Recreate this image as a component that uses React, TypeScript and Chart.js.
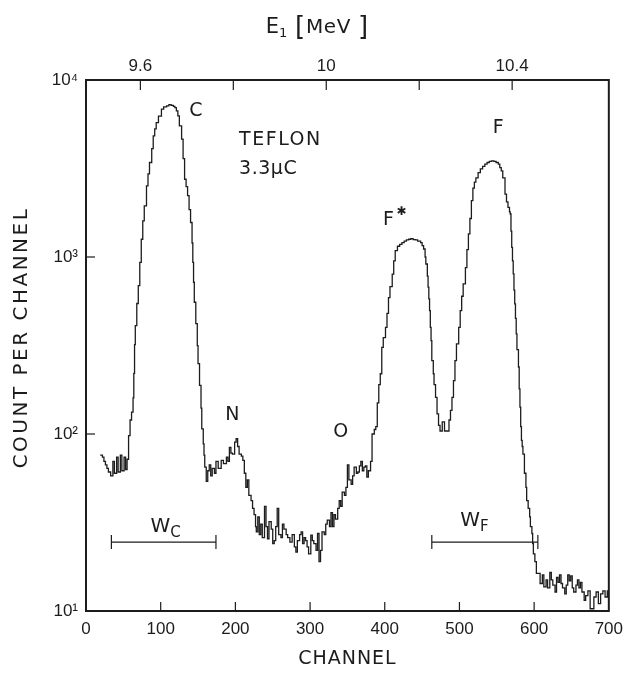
import React, { useEffect, useRef } from "react";
import { Chart, registerables } from "chart.js";

Chart.register(...registerables);

// ---------------- data ----------------
const channels = [
  19, 22, 24, 26, 28, 30, 33, 36, 38, 41, 43, 46, 48, 51, 53, 55,
  57, 59, 61, 63, 64, 65, 66, 68, 70, 72, 74, 76, 78, 81, 83, 85, 88, 90, 92, 94, 97,
  101, 104, 108, 111, 114, 117, 119, 121, 123, 125, 128, 130, 132, 134, 136, 138, 140,
  142, 143, 144, 145, 147, 149, 150, 152, 154, 155, 157, 158, 159, 161, 163,
  165, 167, 169, 172, 174, 177, 181, 184, 188, 190, 192, 194, 196, 199, 201, 203, 205,
  208, 210, 212, 214, 216, 218, 221, 223, 225, 227, 228, 230, 232, 234, 236, 239, 241,
  243, 245, 248, 250, 252, 254, 256, 258, 261, 263, 265, 268, 270, 273, 276, 279, 281,
  283, 286, 288, 290, 292, 294, 296, 298, 301, 303, 305, 308, 310, 312, 314, 316, 319,
  321, 323, 326, 328, 330, 332, 334, 337, 339, 341, 343, 346, 348, 350, 352, 355, 357,
  359, 362, 364, 366, 368, 370, 372, 374, 376, 378, 381,
  383, 386, 388, 390, 392, 394, 396, 398, 401, 403, 405, 407, 410, 412, 414, 417, 420,
  423, 426, 429, 432, 435, 438, 441, 444, 448, 450, 452, 454, 455, 457, 458, 459, 460,
  461, 462, 463, 465, 466, 468, 470, 472, 474, 477, 480, 484, 486, 488, 490, 492, 494,
  496, 499, 501, 503, 505, 508, 510, 512, 514, 516, 518, 520, 522, 525, 528, 531, 534,
  537, 540, 543, 546, 549, 552, 554, 556, 558, 561, 563, 565, 567, 568, 569, 570, 571,
  572, 573, 574, 575, 576, 577, 579, 580, 581, 582, 583, 584, 585, 587, 589, 590, 592,
  594, 595, 597, 598, 599, 601, 603,
  605, 608, 611, 613, 616, 618, 621, 623, 625, 628, 630, 632, 634, 636, 638, 641, 643,
  645, 647, 649, 651, 653, 656, 658, 660, 662, 664, 667, 669, 672, 675, 678, 680, 683,
  686, 689, 692, 695, 698, 700,
];

const counts = [
  76, 74, 70, 67, 64, 61, 58, 70, 60, 74, 61, 76, 62, 74, 63, 72,
  98, 120, 133, 160, 220, 320, 410, 546, 689, 933, 1260, 1600, 1946, 2520, 2950, 3420, 4100, 4830, 5300, 5740, 6250,
  6840, 7050, 7150, 7250, 7190, 7100, 6980, 6700, 6270, 5500, 4630, 3600, 2750, 2500, 2220, 1850, 1566,
  1200, 933, 720, 555, 420, 316, 250, 188, 140, 107, 88, 76, 65, 54, 62,
  67, 58, 64, 60, 70, 64, 71, 68, 74, 70, 84, 78, 77, 90, 94, 85, 77,
  75, 71, 60, 50, 55, 45, 42, 38, 35, 30, 28, 34, 27, 31, 26, 39, 30,
  25.6, 32, 29, 24, 25, 30, 38, 27, 26, 31, 29, 27, 26, 24.5, 27, 23, 21.5,
  25, 27, 28, 24, 26, 25, 23, 21, 26.8, 25, 24, 22, 27.4, 19, 22, 28, 27,
  31, 32.6, 30, 36, 30, 35, 33, 38, 42, 39, 47, 45, 50, 67, 55, 52, 58,
  65, 60, 61, 66, 70, 62, 65, 66, 57, 62, 70,
  100, 106, 110, 150, 190, 219, 309, 350, 400, 480, 590, 680, 800, 950, 1086, 1150, 1180,
  1205, 1230, 1250, 1260, 1270, 1255, 1250, 1230, 1205, 1160, 1110, 1000, 913, 780, 676, 580, 498,
  400, 337, 260, 219, 190, 161, 130, 112, 104, 117, 104, 104, 120, 136, 161, 200, 260,
  323, 400, 498, 600, 705, 871, 1100, 1350, 1650, 2080, 2450, 2650, 2800, 3000, 3150, 3250, 3350,
  3420, 3470, 3490, 3470, 3420, 3350, 3200, 3070, 2800, 2265, 2050, 1905, 1800, 1750, 1400, 1132, 950,
  802, 650, 543, 450, 368, 300, 239, 180, 142, 110, 92, 85, 77, 60, 50, 42, 38,
  34, 30, 27.4, 24, 21, 19, 16.3,
  16.3, 14.3, 16, 13.7, 15, 13.5, 16.5, 15, 14, 12.8, 15.5, 14.5, 16, 14.3, 13.5, 12.5, 14,
  16, 14.8, 15.8, 13.5, 12.8, 14, 15, 13.5, 14.5, 12.8, 11.5, 12.2, 13, 10.3, 10.3, 12, 12.8,
  11, 12.5, 13, 12, 13, 13,
];

const channelTicks = [0, 100, 200, 300, 400, 500, 600, 700];
const countTicks = [10, 100, 1000, 10000];
const countTickLabels = ["10\u00B9", "10\u00B2", "10\u00B3", "10\u2074"];
const energyTicks = [9.6, 9.8, 10.0, 10.2, 10.4];
const energyTickLabels = ["9.6", "", "10", "", "10.4"];
const energyAtChannel0 = 9.483;
const energyAtChannel700 = 10.608;

const wcRange = [34, 174];
const wfRange = [463, 605];
const bracketCount = 24.5;

const FONT = "'Liberation Sans', Arial, sans-serif";
const WORD_FONT = "'DejaVu Sans', sans-serif";
const INK = "#1c1c1c";

// ---------------- plugin for frame, inward ticks and labels ----------------
const decorPlugin = {
  id: "decor",
  afterDatasetsDraw(chart: any) {
    const { ctx, chartArea, scales, width, height } = chart;
    const { left, top, right, bottom } = chartArea;
    const x = scales.x;
    const y = scales.y;
    const x2 = scales.x2;
    ctx.save();
    ctx.strokeStyle = INK;
    ctx.lineWidth = 2;
    ctx.strokeRect(left, top, right - left, bottom - top);

    ctx.lineWidth = 1.2;
    const seg = (a: number, b: number, c: number, d: number) => {
      ctx.beginPath();
      ctx.moveTo(a, b);
      ctx.lineTo(c, d);
      ctx.stroke();
    };
    channelTicks.forEach((v) => {
      if (v > 0 && v < 700) {
        const px = x.getPixelForValue(v);
        seg(px, bottom, px, bottom - 9);
      }
    });
    energyTicks.forEach((e) => {
      const px = x2.getPixelForValue(e);
      seg(px, top, px, top + 10);
    });
    countTicks.forEach((v) => {
      if (v > 10 && v < 10000) {
        const py = y.getPixelForValue(v);
        seg(left, py, left + 9, py);
      }
    });

    ctx.fillStyle = INK;
    ctx.textBaseline = "middle";
    const setSpacing = (s: string) => {
      if ("letterSpacing" in ctx) (ctx as any).letterSpacing = s;
    };
    const put = (text: string, ch: number, cnt: number, size: number, align: CanvasTextAlign = "center", spacing = "0px") => {
      ctx.font = `${size}px ${WORD_FONT}`;
      setSpacing(spacing);
      ctx.textAlign = align;
      ctx.fillText(text, x.getPixelForValue(ch), y.getPixelForValue(cnt));
    };
    put("C", 147, 6700, 19);
    put("N", 196, 128, 19);
    put("O", 341, 103, 19);
    put("F", 552, 5350, 19);
    put("TEFLON", 205, 4600, 19, "left", "1.5px");
    put("3.3\u03BCC", 205, 3150, 19, "left", "0.5px");

    // F* with raised asterisk
    put("F", 405, 1620, 19);
    ctx.font = `bold 12px ${WORD_FONT}`;
    setSpacing("0px");
    ctx.textAlign = "left";
    ctx.fillText("\u2731", x.getPixelForValue(405) + 8, y.getPixelForValue(1620) - 8);

    // W labels with subscripts
    const wLabel = (sub: string, ch: number, cnt: number) => {
      const px = x.getPixelForValue(ch);
      const py = y.getPixelForValue(cnt);
      ctx.font = `20px ${WORD_FONT}`;
      setSpacing("0px");
      ctx.textAlign = "right";
      ctx.fillText("W", px + 2, py);
      ctx.font = `15px ${WORD_FONT}`;
      ctx.textAlign = "left";
      ctx.fillText(sub, px + 2, py + 7);
    };
    wLabel("C", 110, 30);
    wLabel("F", 525, 32.5);

    // axis titles
    ctx.textAlign = "center";
    // bottom: CHANNEL
    ctx.font = `19px ${WORD_FONT}`;
    setSpacing("1px");
    ctx.fillText("CHANNEL", (left + right) / 2, height - 18);
    // left: COUNT PER CHANNEL
    ctx.save();
    ctx.translate(22, (top + bottom) / 2 - 8);
    ctx.rotate(-Math.PI / 2);
    ctx.font = `20px ${WORD_FONT}`;
    setSpacing("2.5px");
    ctx.fillText("COUNT PER CHANNEL", 0, 0);
    ctx.restore();
    // top: E1 [MeV]
    const tx = x2.getPixelForValue(9.976);
    const ty = 28;
    setSpacing("0px");
    ctx.font = `21px ${WORD_FONT}`;
    ctx.textAlign = "right";
    ctx.fillText("E", tx - 36, ty);
    ctx.font = `13px ${WORD_FONT}`;
    ctx.textAlign = "left";
    ctx.fillText("1", tx - 36, ty + 6);
    ctx.font = `26px ${WORD_FONT}`;
    ctx.fillText("[", tx - 20, ty);
    ctx.font = `20px ${WORD_FONT}`;
    setSpacing("0.5px");
    ctx.fillText("MeV", tx - 9, ty);
    ctx.font = `26px ${WORD_FONT}`;
    setSpacing("0px");
    ctx.fillText("]", tx + 43, ty);
    ctx.restore();
  },
};

export default function App() {
  const canvasRef = useRef<HTMLCanvasElement | null>(null);

  useEffect(() => {
    if (!canvasRef.current) return;
    const histogram = channels.map((c, i) => ({ x: c, y: counts[i] }));
    const bracket = (r: number[]) => [
      { x: r[0], y: bracketCount },
      { x: r[1], y: bracketCount },
    ];
    const bracketStyle = {
      borderColor: INK,
      borderWidth: 1.1,
      pointStyle: "line" as const,
      rotation: 90,
      pointRadius: 7,
      pointBorderWidth: 1.2,
      pointBorderColor: INK,
      pointBackgroundColor: INK,
      xAxisID: "x",
      yAxisID: "y",
    };

    const chart = new Chart(canvasRef.current, {
      type: "line",
      data: {
        datasets: [
          {
            label: "Teflon",
            data: histogram,
            stepped: true,
            borderColor: INK,
            borderWidth: 1.3,
            pointRadius: 0,
            fill: false,
            xAxisID: "x",
            yAxisID: "y",
          },
          { label: "WC", data: bracket(wcRange), ...bracketStyle },
          { label: "WF", data: bracket(wfRange), ...bracketStyle },
        ],
      },
      options: {
        animation: false,
        responsive: true,
        maintainAspectRatio: false,
        layout: { padding: { left: 0, right: 20, top: 0, bottom: 0 } },
        plugins: { legend: { display: false }, tooltip: { enabled: false } },
        scales: {
          x: {
            type: "linear",
            position: "bottom",
            min: 0,
            max: 700,
            afterBuildTicks: (s: any) => {
              s.ticks = channelTicks.map((v) => ({ value: v }));
            },
            afterFit: (s: any) => {
              s.height = 66;
            },
            grid: { display: false, drawTicks: false },
            border: { display: false },
            ticks: {
              color: INK,
              padding: 8,
              maxRotation: 0,
              font: { family: FONT, size: 17 },
              callback: (v: any) => String(v),
            },
          },
          x2: {
            type: "linear",
            position: "top",
            min: energyAtChannel0,
            max: energyAtChannel700,
            afterBuildTicks: (s: any) => {
              s.ticks = energyTicks.map((v) => ({ value: v }));
            },
            afterFit: (s: any) => {
              s.height = 80;
            },
            grid: { display: false, drawTicks: false },
            border: { display: false },
            ticks: {
              color: INK,
              padding: 3,
              maxRotation: 0,
              autoSkip: false,
              font: { family: FONT, size: 17 },
              callback: (_v: any, i: number) => energyTickLabels[i],
            },
          },
          y: {
            type: "logarithmic",
            position: "left",
            min: 10,
            max: 10000,
            afterBuildTicks: (s: any) => {
              s.ticks = countTicks.map((v) => ({ value: v }));
            },
            afterFit: (s: any) => {
              s.width = 86;
            },
            grid: { display: false, drawTicks: false },
            border: { display: false },
            ticks: {
              color: INK,
              padding: 8,
              autoSkip: false,
              font: { family: FONT, size: 17 },
              callback: (_v: any, i: number) => countTickLabels[i],
            },
          },
        },
      },
      plugins: [decorPlugin],
    });
    return () => chart.destroy();
  }, []);

  return (
    <div
      style={{
        position: "fixed",
        left: 0,
        top: 0,
        width: 631,
        height: 677,
        background: "#fff",
      }}
    >
      <canvas ref={canvasRef} />
    </div>
  );
}
